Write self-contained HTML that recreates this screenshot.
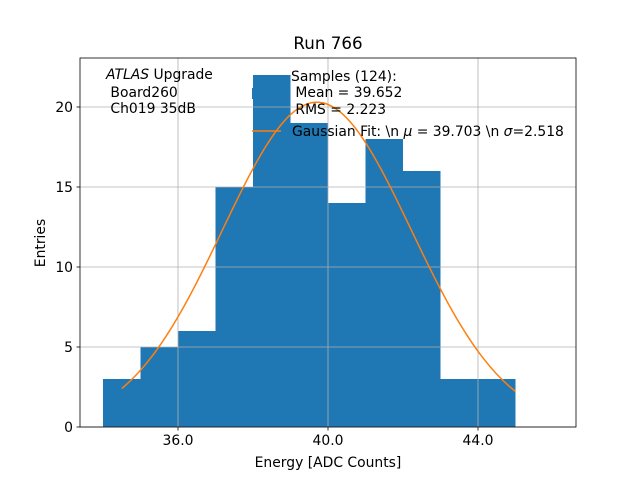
<!DOCTYPE html>
<html><head><meta charset="utf-8"><style>
body{margin:0;background:#fff}
svg{font-family:"DejaVu Sans","Liberation Sans",sans-serif}
</style></head><body>
<svg id="chart" width="640" height="480" xmlns="http://www.w3.org/2000/svg">
<rect width="640" height="480" fill="#fff"/>
<g id="bars"></g>
<g id="grid"></g>
<g id="curve"></g>
<rect x="80" y="58" width="496" height="369" fill="none" stroke="#000" stroke-width="0.8"/>
<g id="ticks" font-size="13.9"></g>
<text x="328" y="49" text-anchor="middle" font-size="16.7">Run 766</text>
<text x="328" y="467" text-anchor="middle" font-size="13.9">Energy [ADC Counts]</text>
<text transform="translate(45,243) rotate(-90)" text-anchor="middle" font-size="13.9">Entries</text>
<g font-size="13.9">
<text x="106" y="79"><tspan font-style="italic">ATLAS</tspan> Upgrade</text>
<text x="106" y="97">&#160;Board260</text>
<text x="106" y="113">&#160;Ch019 35dB</text>
</g>
<g font-size="13.9">
<rect x="252" y="88" width="29" height="11" fill="#1f77b4"/>
<text x="291" y="81">Samples (124):</text>
<text x="291" y="97">&#160;Mean = 39.652</text>
<text x="291" y="114">&#160;RMS = 2.223</text>
<line x1="252" y1="131" x2="281" y2="131" stroke="#ff7f0e" stroke-width="1.5"/>
<text x="292" y="136">Gaussian Fit: \n <tspan font-style="italic">μ</tspan> = 39.703 \n <tspan font-style="italic">σ</tspan>=2.518</text>
</g>
</svg>
<script>
const binEdges=[34,35,36,37,38,39,40,41,42,43,44];
const counts=[3,5,6,15,22,19,14,18,16,3,3];
const fitParams=[20.3,39.703,2.518];
const fitRange=[34.5,45];
const xTicks=[36,40,44];
const xTickLabels=["36.0","40.0","44.0"];
const yTicks=[0,5,10,15,20];
const yTickLabels=["0","5","10","15","20"];
const NS="http://www.w3.org/2000/svg";
const L=80,R=576,T=58,B=427;
function X(v){return 328+(v-40)*37.5;}
function Y(v){return 427-v*16;}
function mk(t,a,p){const e=document.createElementNS(NS,t);for(const k in a)e.setAttribute(k,a[k]);p.appendChild(e);return e;}
const bars=document.getElementById('bars');
counts.forEach((c,i)=>{const x0=X(binEdges[i]),x1=X(binEdges[i]+1);
const r=mk('rect',{x:x0,y:Y(c),width:x1-x0,height:Y(0)-Y(c),fill:'#1f77b4'},bars);

});
const grid=document.getElementById('grid'),ticks=document.getElementById('ticks');
xTicks.forEach((v,i)=>{const x=X(v);
const g=mk('line',{x1:x,x2:x,y1:T,y2:B,stroke:'#b0b0b0','stroke-width':0.8},grid);

mk('line',{x1:x,x2:x,y1:B,y2:B+3.5,stroke:'#000','stroke-width':0.8},ticks);
const t=mk('text',{x:x,y:B+18,'text-anchor':'middle'},ticks);t.textContent=xTickLabels[i];
});
yTicks.forEach((v,i)=>{const y=Y(v);
const g=mk('line',{x1:L,x2:R,y1:y,y2:y,stroke:'#b0b0b0','stroke-width':0.8},grid);

mk('line',{x1:L-3.5,x2:L,y1:y,y2:y,stroke:'#000','stroke-width':0.8},ticks);
const t=mk('text',{x:L-7,y:y+5,'text-anchor':'end'},ticks);t.textContent=yTickLabels[i];
});
let d='';const [A,mu,s]=fitParams;
for(let k=0;k<=100;k++){const v=fitRange[0]+(fitRange[1]-fitRange[0])*k/100;
const f=A*Math.exp(-((v-mu)**2)/(2*s*s));d+=(k?'L':'M')+X(v).toFixed(2)+','+Y(f).toFixed(2);}
const p=mk('path',{d:d,fill:'none',stroke:'#ff7f0e','stroke-width':1.5},document.getElementById('curve'));

</script>
</body></html>
